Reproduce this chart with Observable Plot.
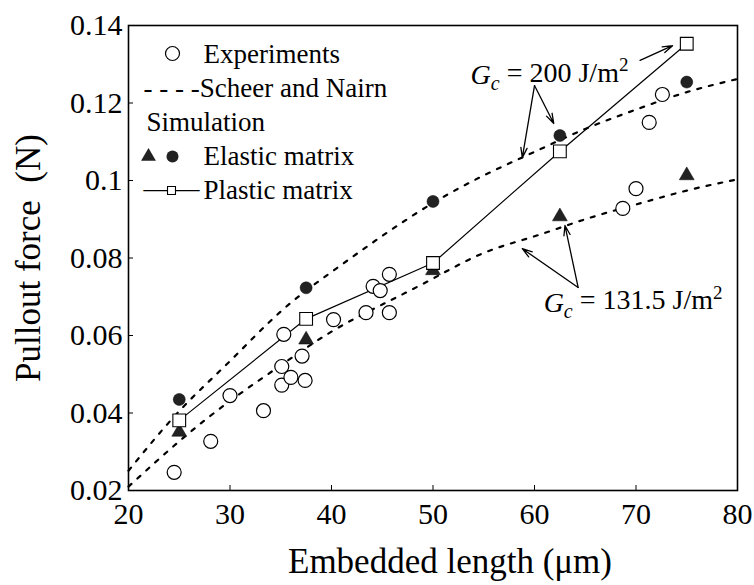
<!DOCTYPE html>
<html><head><meta charset="utf-8">
<script src="https://cdn.jsdelivr.net/npm/d3@7"></script>
<script src="https://cdn.jsdelivr.net/npm/@observablehq/plot@0.6"></script>
<style>
html,body{margin:0;padding:0;background:#fff;}
#chart{position:relative;width:754px;height:585px;}
#chart svg, #chart svg text, #chart svg g {font-family:"Liberation Serif","Times New Roman",serif !important;}
</style></head>
<body><div id="chart"></div>
<script>
const xTicks = [20, 30, 40, 50, 60, 70, 80];
const yTicks = [0.02, 0.04, 0.06, 0.08, 0.1, 0.12, 0.14];

// Experiments (open circles)
const expX = [24.5, 28.1, 30.0, 33.3, 35.1, 35.1, 35.3, 36.0, 37.1, 37.4, 40.2, 43.4, 44.1, 44.8, 45.7, 45.7, 68.7, 70.0, 71.3, 72.6];
const expY = [0.0247, 0.0327, 0.0445, 0.0406, 0.0472, 0.0520, 0.0603, 0.0492, 0.0547, 0.0484, 0.0641, 0.0659, 0.0727, 0.0716, 0.0758, 0.0659, 0.0928, 0.0979, 0.1150, 0.1222];

// Simulation
const simX = [25, 37.5, 50, 62.5, 75];
const elasticCircleY = [0.0435, 0.0723, 0.0946, 0.1116, 0.1254];   // Gc = 200
const elasticTriY = [0.0351, 0.0589, 0.0768, 0.0907, 0.1013];      // Gc = 131.5
const plasticY = [0.0381, 0.0643, 0.0787, 0.1075, 0.1353];

// Scheer and Nairn curves
const snX = [20, 25, 30, 35, 40, 45, 50, 55, 60, 65, 70, 75, 80];
const snUpper = [0.0251, 0.0405, 0.0534, 0.0662, 0.0764, 0.0857, 0.0942, 0.1013, 0.1074, 0.1133, 0.1183, 0.1228, 0.1262];
const snLower = [0.0210, 0.0327, 0.0431, 0.0523, 0.0610, 0.0680, 0.0747, 0.0813, 0.0856, 0.0900, 0.0938, 0.0974, 0.1003];

// Annotations
const noteText = ["Gc = 200 J/m2", "Gc = 131.5 J/m2"];
const noteX = [53.7, 60.9];
const noteY = [0.1272, 0.0685];
const arrowX1 = [60.0, 60.0, 70.4, 64.3, 64.3];
const arrowY1 = [0.1245, 0.1245, 0.1310, 0.0724, 0.0724];
const arrowX2 = [58.8, 61.9, 73.6, 58.8, 63.0];
const arrowY2 = [0.1059, 0.1147, 0.1348, 0.0824, 0.0884];

const exp = expX.map((x, i) => ({x, y: expY[i]}));
const sim = simX.map((x, i) => ({x, c: elasticCircleY[i], t: elasticTriY[i], p: plasticY[i]}));
const sn = snX.map((x, i) => ({x, u: snUpper[i], l: snLower[i]}));
const notes = noteText.map((t, i) => ({t, x: noteX[i], y: noteY[i]}));
const arrows = arrowX1.map((x1, i) => ({x1, y1: arrowY1[i], x2: arrowX2[i], y2: arrowY2[i]}));

const FS = 27;
const SERIF = "Liberation Serif";
const dash = "4,8";
const legendItems = [
  {t: "Experiments", dx: 75, dy: 29},
  {t: "- - - -Scheer and Nairn", dx: 15, dy: 63},
  {t: "Simulation", dx: 18, dy: 97},
  {t: "Elastic matrix", dx: 75, dy: 131},
  {t: "Plastic matrix", dx: 75, dy: 165}
];
const legendMarks = legendItems.map(d => Plot.text([d.t], {frameAnchor: "top-left", dx: d.dx, dy: d.dy, text: v => v,
  textAnchor: "start", lineAnchor: "middle", fontSize: FS, fontFamily: SERIF}));

const plot = Plot.plot({
  width: 754, height: 585,
  marginLeft: 128, marginRight: 17, marginTop: 25, marginBottom: 95,
  style: {fontFamily: SERIF, background: "#fff", color: "#000"},
  x: {domain: [20, 80], ticks: xTicks},
  y: {domain: [0.02, 0.14], ticks: yTicks},
  marks: [
    Plot.frame({stroke: "#000", strokeWidth: 1.6}),
    Plot.axisX({ticks: xTicks, tickSize: -5, tickPadding: 17, fontSize: 30, fontFamily: SERIF, label: null, tickFormat: d => String(d)}),
    Plot.axisY({ticks: yTicks, tickSize: -5, tickPadding: 11, fontSize: 30, fontFamily: SERIF, label: null, tickFormat: d => String(+d.toFixed(2))}),
    Plot.text(["Embedded length (μm)"], {frameAnchor: "bottom", dx: 17, dy: 71, lineAnchor: "middle", textAnchor: "middle", fontSize: 35, fontFamily: SERIF, text: d => d}),
    Plot.text(["Pullout force  (N)"], {frameAnchor: "left", dx: -100, rotate: -90, lineAnchor: "middle", textAnchor: "middle", fontSize: 35, fontFamily: SERIF, text: d => d}),
    Plot.line(sn, {x: "x", y: "u", curve: "natural", stroke: "#000", strokeWidth: 2.2, strokeDasharray: dash}),
    Plot.line(sn, {x: "x", y: "l", curve: "natural", stroke: "#000", strokeWidth: 2.2, strokeDasharray: dash}),
    Plot.line(sim, {x: "x", y: "p", stroke: "#000", strokeWidth: 1.2}),
    Plot.dot(exp, {x: "x", y: "y", r: 7, stroke: "#000", strokeWidth: 1.2, fill: "#fff"}),
    Plot.dot(sim, {x: "x", y: "c", r: 6, fill: "#222", stroke: "#000", strokeWidth: 0.5}),
    Plot.dot(sim, {x: "x", y: "t", r: 5.5, symbol: "triangle", fill: "#222", stroke: "#000", strokeWidth: 0.5}),
    Plot.dot(sim, {x: "x", y: "p", r: 7.2, symbol: "square", fill: "#fff", stroke: "#000", strokeWidth: 1.1}),
    Plot.arrow(arrows, {x1: "x1", y1: "y1", x2: "x2", y2: "y2", stroke: "#000", strokeWidth: 1.3, headLength: 12, headAngle: 35}),
    Plot.text(notes, {x: "x", y: "y", text: "t", textAnchor: "start", fontSize: 28, fontFamily: SERIF, className: "gc-note"}),
    // legend
    ...legendMarks,
    Plot.dot([0], {frameAnchor: "top-left", dx: 44, dy: 28, r: 7, stroke: "#000", strokeWidth: 1.2, fill: "#fff"}),
    Plot.dot([0], {frameAnchor: "top-left", dx: 20, dy: 131, r: 5.5, symbol: "triangle", fill: "#222"}),
    Plot.dot([0], {frameAnchor: "top-left", dx: 44, dy: 131, r: 6, fill: "#222"}),
    Plot.text(["——"], {frameAnchor: "top-left", dx: 15, dy: 163, textAnchor: "start", lineAnchor: "middle", fontSize: 28, fontFamily: SERIF, text: d => d}),
    Plot.dot([0], {frameAnchor: "top-left", dx: 43, dy: 165, r: 4.5, symbol: "square", fill: "#fff", stroke: "#000", strokeWidth: 1.1})
  ]
});

// Rich formatting for Gc annotations (italic G, subscript c, superscript 2)
d3.select(plot).selectAll(".gc-note text").each(function() {
  const s = d3.select(this);
  const raw = s.text();
  const m = raw.match(/^Gc = (.*) J\/m2$/);
  if (!m) return;
  s.text(null);
  s.append("tspan").attr("font-style", "italic").text("G");
  s.append("tspan").attr("font-style", "italic").attr("font-size", "20").attr("dy", "0.3em").text("c");
  s.append("tspan").attr("dy", "-0.3em").text(" = " + m[1] + " J/m");
  s.append("tspan").attr("font-size", "19").attr("dy", "-0.55em").text("2");
});

document.getElementById("chart").appendChild(plot);
</script>
</body></html>
